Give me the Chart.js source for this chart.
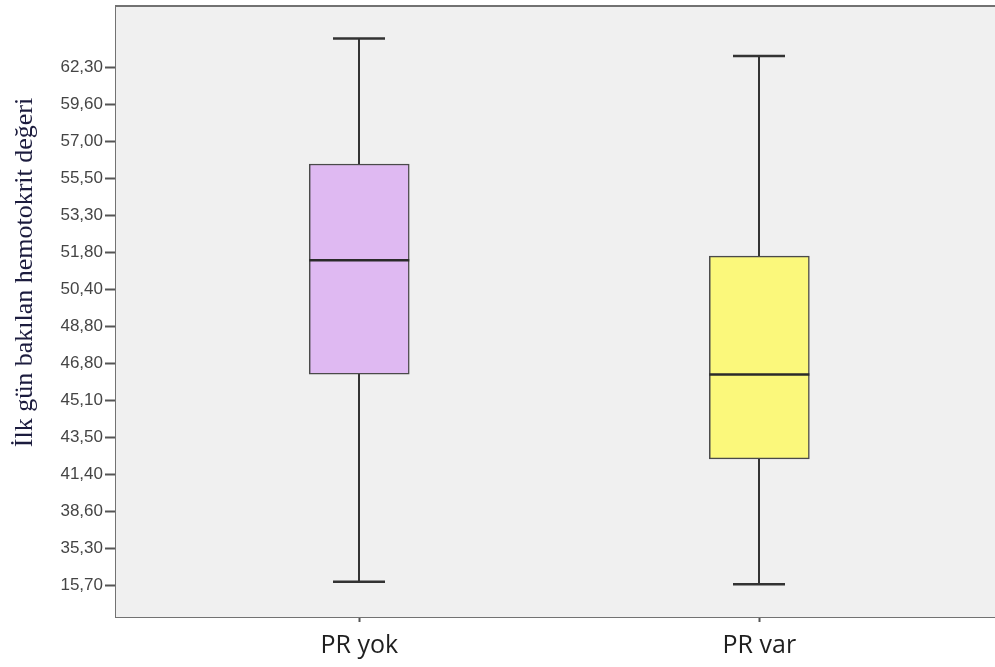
<!DOCTYPE html>
<html>
<head>
<meta charset="utf-8">
<script src="https://cdn.jsdelivr.net/npm/chart.js@4.4.1/dist/chart.umd.min.js"></script>
<style>
  html, body { margin: 0; padding: 0; background: #ffffff; }
  canvas { display: block; }
</style>
</head>
<body>
<canvas id="box" width="995" height="667"></canvas>
<script>
// Groups on the horizontal axis
const groups = ['PR yok', 'PR var'];

// Vertical axis labels, bottom to top; they sit at evenly spaced rank positions 0..14
const yTickLabels = ['15,70', '35,30', '38,60', '41,40', '43,50', '45,10', '46,80',
  '48,80', '50,40', '51,80', '53,30', '55,50', '57,00', '59,60', '62,30'];

// Box-plot statistics per group, expressed in rank positions of the axis above
const whiskerLow  = [0.11, 0.04];
const quartile1   = [5.72, 3.43];
const medians     = [8.80, 5.71];
const quartile3   = [11.40, 8.91];
const whiskerHigh = [14.79, 14.32];

const boxFills = ['#dfb9f2', '#fbf87b'];
const axisTitle = 'İlk gün bakılan hemotokrit değeri';

// Panel background, top frame line, whiskers, medians and the rotated axis title
const boxPlotExtras = {
  id: 'boxPlotExtras',
  beforeDatasetsDraw(chart) {
    const { ctx, chartArea: a } = chart;
    ctx.save();
    ctx.fillStyle = '#f0f0f0';
    ctx.fillRect(a.left, a.top, a.right - a.left, a.bottom - a.top);
    ctx.restore();

    // whisker stems and caps, behind the boxes
    const xs = chart.scales.x, ys = chart.scales.y;
    ctx.save();
    ctx.strokeStyle = '#333333';
    groups.forEach((g, i) => {
      const cx = Math.round(xs.getPixelForValue(i + 1));
      const capHalf = 26;
      const yLo = ys.getPixelForValue(whiskerLow[i]);
      const yQ1 = ys.getPixelForValue(quartile1[i]);
      const yQ3 = ys.getPixelForValue(quartile3[i]);
      const yHi = ys.getPixelForValue(whiskerHigh[i]);
      ctx.lineWidth = 2;
      ctx.beginPath();
      ctx.moveTo(cx, yHi); ctx.lineTo(cx, yQ3);
      ctx.moveTo(cx, yQ1); ctx.lineTo(cx, yLo);
      ctx.stroke();
      ctx.lineWidth = 2.5;
      ctx.beginPath();
      ctx.moveTo(cx - capHalf, yHi); ctx.lineTo(cx + capHalf, yHi);
      ctx.moveTo(cx - capHalf, yLo); ctx.lineTo(cx + capHalf, yLo);
      ctx.stroke();
    });
    ctx.restore();
  },
  afterDatasetsDraw(chart) {
    const { ctx } = chart;
    const xs = chart.scales.x, ys = chart.scales.y;
    const meta = chart.getDatasetMeta(0);
    ctx.save();
    ctx.strokeStyle = '#2a2a2a';
    ctx.lineWidth = 2.5;
    groups.forEach((g, i) => {
      const bar = meta.data[i];
      const half = bar.width / 2;
      const cx = xs.getPixelForValue(i + 1);
      const ym = ys.getPixelForValue(medians[i]);
      ctx.beginPath();
      ctx.moveTo(cx - half, ym); ctx.lineTo(cx + half, ym);
      ctx.stroke();
    });
    ctx.restore();
  },
  afterDraw(chart) {
    const { ctx, chartArea: a } = chart;
    ctx.save();
    ctx.strokeStyle = '#727272';
    ctx.lineWidth = 2;
    ctx.beginPath();
    ctx.moveTo(a.left - 1, a.top);
    ctx.lineTo(a.right, a.top);
    ctx.stroke();

    ctx.fillStyle = '#1c1c3e';
    ctx.font = '26px "Liberation Serif", "Times New Roman", serif';
    ctx.textAlign = 'center';
    ctx.textBaseline = 'alphabetic';
    ctx.translate(32, 272.5);
    ctx.rotate(-Math.PI / 2);
    ctx.fillText(axisTitle, 0, 0);
    ctx.restore();
  }
};

new Chart(document.getElementById('box'), {
  type: 'bar',
  data: {
    datasets: [{
      data: groups.map((g, i) => ({ x: i + 1, y: [quartile1[i], quartile3[i]] })),
      backgroundColor: boxFills,
      borderColor: '#4a4a4a',
      borderWidth: 1.5,
      borderSkipped: false,
      barThickness: 100
    }]
  },
  options: {
    responsive: false,
    animation: false,
    devicePixelRatio: 1,
    layout: { padding: { top: 6, right: 0, bottom: 0, left: 0 } },
    plugins: { legend: { display: false }, tooltip: { enabled: false } },
    scales: {
      x: {
        type: 'linear',
        offset: false,
        min: 0.392,
        max: 2.589,
        afterBuildTicks: (s) => { s.ticks = groups.map((g, i) => ({ value: i + 1 })); },
        afterFit: (s) => { s.height = 50; s.paddingLeft = 0; s.paddingRight = 0; },
        ticks: {
          autoSkip: false,
          maxRotation: 0,
          padding: 9,
          color: '#1f1f1f',
          font: { family: '"Open Sans", "Noto Sans", sans-serif', size: 25 },
          callback: (v) => groups[Math.round(v) - 1]
        },
        grid: { offset: false, drawOnChartArea: false, tickLength: 5, tickColor: '#555555', tickWidth: 2 },
        border: { display: true, color: '#727272', width: 2 }
      },
      y: {
        type: 'linear',
        min: -0.846,
        max: 15.67,
        afterBuildTicks: (s) => { s.ticks = yTickLabels.map((t, i) => ({ value: i })); },
        afterFit: (s) => { s.width = 116; s.paddingTop = 0; s.paddingBottom = 0; },
        ticks: {
          autoSkip: false,
          padding: 2,
          color: '#454545',
          font: { family: '"Liberation Sans", Arial, sans-serif', size: 17 },
          callback: (v) => yTickLabels[Math.round(v)]
        },
        grid: { drawOnChartArea: false, tickLength: 11, tickColor: '#555555', tickWidth: 2 },
        border: { display: true, color: '#727272', width: 2 }
      }
    }
  },
  plugins: [boxPlotExtras]
});
</script>
</body>
</html>
